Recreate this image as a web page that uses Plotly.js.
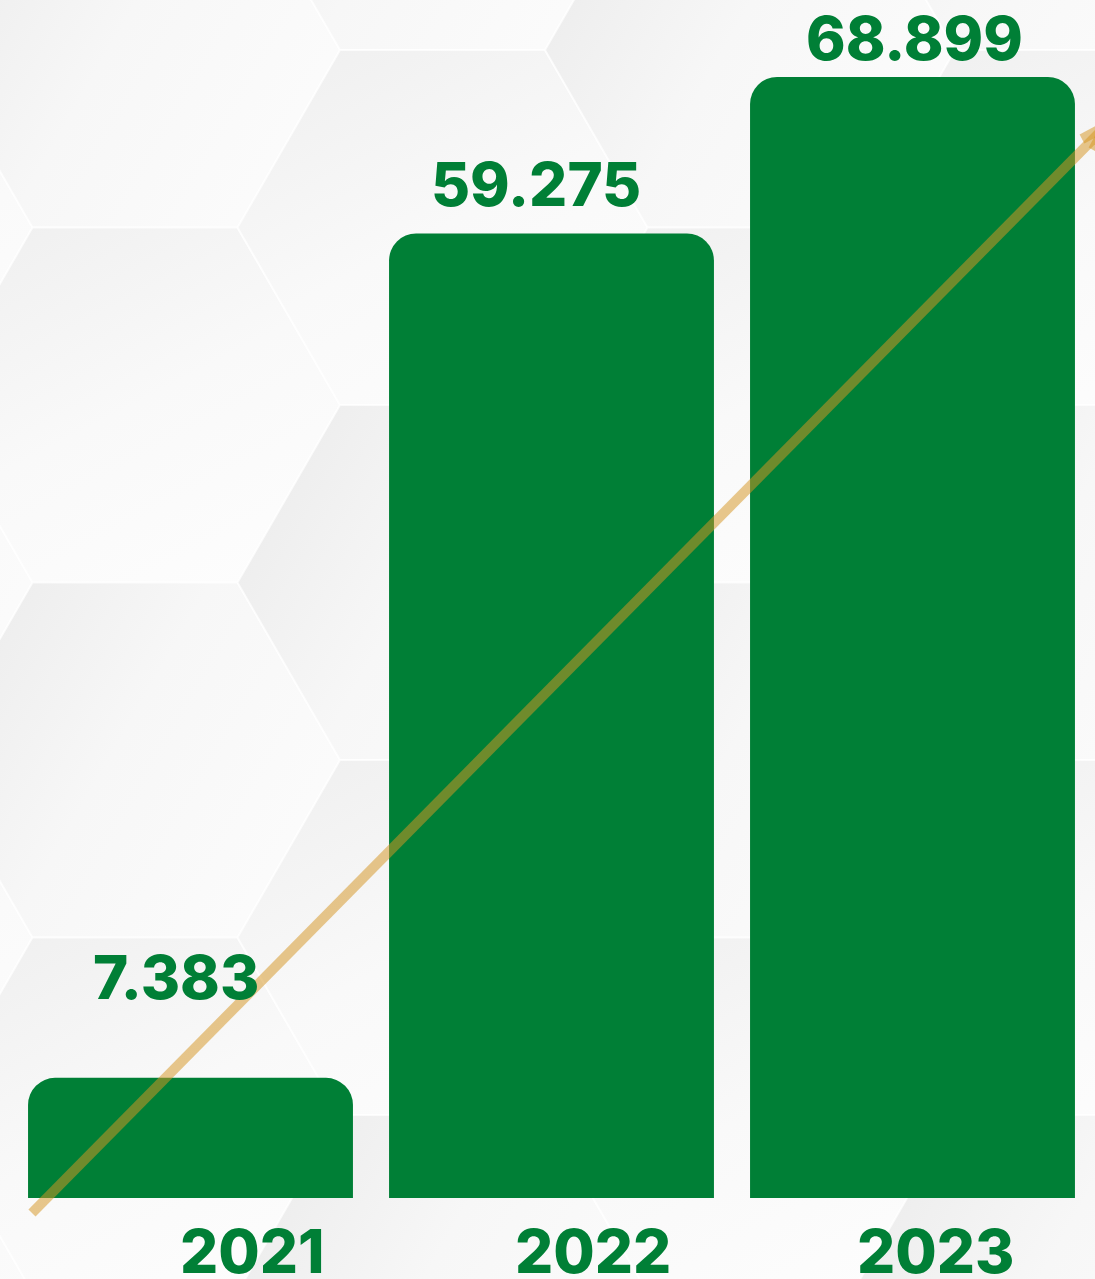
<!DOCTYPE html>
<html>
<head>
<meta charset="utf-8">
<script src="https://cdn.plot.ly/plotly-3.0.1.min.js"></script>
<style>
  html, body { margin: 0; padding: 0; background: #f8f8f8; }
  #chart { width: 1095px; height: 1279px; }
</style>
</head>
<body>
<div id="chart"></div>
<script>
// ---- data ----
const years = ['2021', '2022', '2023'];
const values = [7.383, 59.275, 68.899];
const valueLabels = ['7.383', '59.275', '68.899'];

// ---- label placement (pixel offsets, styling only) ----
const valueLabelXShift = [-15, -16, 2];
const valueLabelYShift = [63, 12, 1];
const yearLabelXShift = [62, 41, 23];

const GREEN = '#007f36';
const W = 1095, H = 1279;
const M = { l: 10, r: 2, t: 0, b: 81 };
const plotW = W - M.l - M.r, plotH = H - M.t - M.b;
const px2x = p => (p - M.l) / plotW;
const py2y = p => (plotH + M.t - p) / plotH;

// decorative hexagon background
function hexBackground() {
  const s = 205, h = s * Math.sqrt(3) / 2;
  let defs = '<defs><linearGradient id="g" x1="0" y1="0.25" x2="1" y2="0.75">' +
    '<stop offset="0" stop-color="#ececec"/><stop offset="0.45" stop-color="#f7f7f7"/>' +
    '<stop offset="1" stop-color="#fcfcfc"/></linearGradient>' +
    '<linearGradient id="g2" x1="0.2" y1="0" x2="0.8" y2="1">' +
    '<stop offset="0" stop-color="#f0f0f0"/><stop offset="0.5" stop-color="#f9f9f9"/>' +
    '<stop offset="1" stop-color="#fdfdfd"/></linearGradient></defs>';
  let body = '<rect width="' + W + '" height="' + H + '" fill="#f9f9f9"/>';
  for (let k = -1; k <= 4; k++) {
    for (let j = -2; j <= 5; j++) {
      const cx = 135 + 307.5 * k;
      const cy = 50 + 355 * j + (Math.abs(k) % 2 ? 177.5 : 0);
      const pts = [[cx + s, cy], [cx + s / 2, cy + h], [cx - s / 2, cy + h],
                   [cx - s, cy], [cx - s / 2, cy - h], [cx + s / 2, cy - h]]
        .map(p => p[0].toFixed(1) + ',' + p[1].toFixed(1)).join(' ');
      const fill = ((k + j) % 2 === 0) ? 'url(#g)' : 'url(#g2)';
      body += '<polygon points="' + pts + '" fill="' + fill + '" stroke="#ffffff" stroke-width="2" stroke-opacity="0.7"/>';
    }
  }
  const svg = '<svg xmlns="http://www.w3.org/2000/svg" width="' + W + '" height="' + H + '">' + defs + body + '</svg>';
  return 'data:image/svg+xml;charset=utf-8,' + encodeURIComponent(svg);
}

function mkFont() {
  return { family: 'Inter, Open Sans, sans-serif', size: 60, color: GREEN, weight: 800 };
}

const trace = {
  type: 'bar',
  x: years,
  y: values,
  marker: { color: GREEN, cornerradius: 27, line: { width: 0 } },
  hoverinfo: 'skip',
  showlegend: false
};

const annotations = [];
for (let i = 0; i < years.length; i++) {
  annotations.push({
    x: i, y: values[i], xref: 'x', yref: 'y',
    text: valueLabels[i], showarrow: false,
    xanchor: 'center', yanchor: 'bottom',
    xshift: valueLabelXShift[i], yshift: valueLabelYShift[i],
    font: mkFont()
  });
  annotations.push({
    x: i, y: 0, xref: 'x', yref: 'y',
    text: years[i], showarrow: false,
    xanchor: 'center', yanchor: 'top',
    xshift: yearLabelXShift[i], yshift: -15,
    font: mkFont()
  });
}

// decorative trend arrow
const arrowColor = 'rgba(212,150,36,0.52)';
const tip = [1106, 126];
const shapes = [
  { type: 'line', xref: 'paper', yref: 'paper', layer: 'above',
    x0: px2x(32), y0: py2y(1213), x1: px2x(tip[0]), y1: py2y(tip[1]),
    line: { color: arrowColor, width: 10 } },
  { type: 'line', xref: 'paper', yref: 'paper', layer: 'above',
    x0: px2x(1082), y0: py2y(139), x1: px2x(tip[0]), y1: py2y(tip[1]),
    line: { color: arrowColor, width: 10 } },
  { type: 'line', xref: 'paper', yref: 'paper', layer: 'above',
    x0: px2x(1093), y0: py2y(150), x1: px2x(tip[0]), y1: py2y(tip[1]),
    line: { color: arrowColor, width: 10 } }
];

const layout = {
  width: W, height: H,
  margin: M,
  paper_bgcolor: '#f8f8f8',
  plot_bgcolor: 'rgba(0,0,0,0)',
  bargap: 0.1,
  xaxis: { type: 'category', range: [-0.5, 2.5], showticklabels: false, showgrid: false,
           zeroline: false, showline: false, ticks: '', fixedrange: true },
  yaxis: { range: [0, 73.63], showticklabels: false, showgrid: false,
           zeroline: false, showline: false, ticks: '', fixedrange: true },
  annotations: annotations,
  shapes: shapes,
  images: [{
    source: hexBackground(), xref: 'paper', yref: 'paper',
    x: px2x(0), y: py2y(0), sizex: W / plotW, sizey: H / plotH,
    xanchor: 'left', yanchor: 'top', sizing: 'stretch', layer: 'below'
  }],
  showlegend: false
};

Plotly.newPlot('chart', [trace], layout, { displayModeBar: false, staticPlot: true });
</script>
</body>
</html>
